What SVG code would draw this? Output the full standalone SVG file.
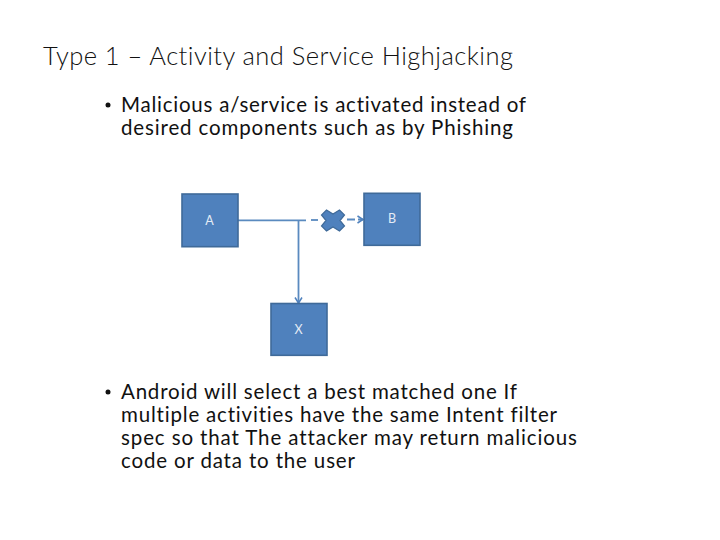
<svg xmlns="http://www.w3.org/2000/svg" width="720" height="540" viewBox="0 0 720 540">
<style>
text{font-family:Lato,"Noto Sans","Liberation Sans",sans-serif;fill:#111;font-variant-ligatures:none}
.t{font-size:25.5px;font-weight:300}
.b{font-size:20.5px}
.n rect{fill:#4f81bd;stroke:#3f6a99;stroke-width:1.6}
.n text{font-size:12.5px;fill:#e4ecf5;text-anchor:middle}
.c{fill:none;stroke:#5a8abf;stroke-width:1.8}
</style>
<defs><marker id="a" markerWidth="9" markerHeight="9" refX="7.5" refY="4.5" orient="auto" markerUnits="userSpaceOnUse"><path d="M2 1L7.5 4.5L2 8" fill="none" stroke="#4f81bd" stroke-width="1.5"/></marker></defs>
<rect width="720" height="540" fill="#fff"/>
<text class="t" x="43" y="65" textLength="470" lengthAdjust="spacing">Type 1 – Activity and Service Highjacking</text>
<circle cx="108" cy="105" r="2.5" fill="#111"/>
<text class="b" x="121" y="111.5" textLength="405" lengthAdjust="spacing">Malicious a/service is activated instead of</text>
<text class="b" x="121" y="135" textLength="392" lengthAdjust="spacing">desired components such as by Phishing</text>
<g class="c" id="connectors">
<path d="M238 220.3H306"/>
<path d="M311 220H321"  stroke-dasharray="7 3.5"/>
<path d="M347 219.5H363" stroke-dasharray="8 3" marker-end="url(#a)"/>
<path d="M298.5 220.3V303" marker-end="url(#a)"/>
</g>
<g id="cross"><path d="M326.5 210L333 214L339.5 210L344.5 215L340 220.5L344.5 226L339.5 231L333 227L326.5 231L321.5 226L326 220.5L321.5 215Z" fill="#4f81bd" stroke="#3f6a99" stroke-width="1.2"/></g>
<g class="n" id="A"><rect x="182" y="194" width="56" height="52.7"/><text x="209.5" y="224.5">A</text></g>
<g class="n" id="B"><rect x="364" y="193.3" width="56" height="52"/><text x="392" y="223">B</text></g>
<g class="n" id="X"><rect x="271" y="303.5" width="56" height="51.8"/><text x="298.5" y="334">X</text></g>
<circle cx="108" cy="392" r="2.5" fill="#111"/>
<text class="b" x="121" y="398.5" textLength="396" lengthAdjust="spacing">Android will select a best matched one If</text>
<text class="b" x="121" y="421.5" textLength="436" lengthAdjust="spacing">multiple activities have the same Intent filter</text>
<text class="b" x="121" y="444.5" textLength="456" lengthAdjust="spacing">spec so that The attacker may return malicious</text>
<text class="b" x="121" y="467.5" textLength="234" lengthAdjust="spacing">code or data to the user</text>
</svg>
